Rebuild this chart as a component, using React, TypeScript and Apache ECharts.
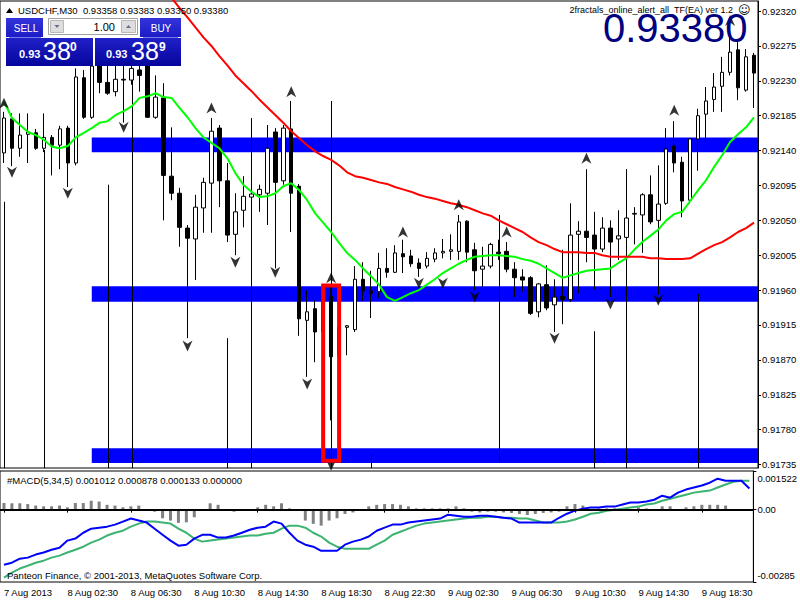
import React, { useEffect, useRef } from 'react';
import * as echarts from 'echarts';

const FONT = '"Liberation Sans", Arial, sans-serif';

const SYMBOL = 'USDCHF,M30';
const HEADER_QUOTES = ['0.93358', '0.93383', '0.93350', '0.93380'];
const BIG_PRICE = '0.93380';
const EA_NAME = '2fractals_online_alert_all_TF(EA) ver 1.2';
const MACD_TITLE = '#MACD(5,34,5) 0.001012 0.000878 0.000133 0.000000';
const COPYRIGHT = 'Panteon Finance, \u00A9 2001-2013, MetaQuotes Software Corp.';

const TIME_TICKS = [
  '7 Aug 2013', '8 Aug 02:30', '8 Aug 06:30', '8 Aug 10:30', '8 Aug 14:30', '8 Aug 18:30',
  '8 Aug 22:30', '9 Aug 02:30', '9 Aug 06:30', '9 Aug 10:30', '9 Aug 14:30', '9 Aug 18:30',
];
const PRICE_TICKS = [
  0.9232, 0.92275, 0.9223, 0.92185, 0.9214, 0.92095, 0.9205, 0.92005, 0.9196, 0.91915,
  0.9187, 0.91825, 0.9178, 0.91735,
];
const MACD_TICKS = [0.001522, 0, -0.00285];
const MACD_TICK_TEXT = ['0.001522', '0.00', '-0.00285'];

// [open, high, low, close]
const OHLC: number[][] = [
  [0.92137, 0.9219, 0.92124, 0.92182], [0.92181, 0.92188, 0.9212, 0.92143], [0.92143, 0.92188, 0.92132, 0.9216],
  [0.92161, 0.92188, 0.92124, 0.92164], [0.92163, 0.92168, 0.92141, 0.92143], [0.92143, 0.92188, 0.92138, 0.92157],
  [0.92157, 0.9216, 0.92108, 0.92147], [0.92147, 0.92172, 0.92116, 0.92168], [0.92169, 0.92172, 0.92093, 0.92124],
  [0.92124, 0.92246, 0.92121, 0.92235], [0.92234, 0.92244, 0.92181, 0.92183], [0.92183, 0.92254, 0.92181, 0.92249],
  [0.92249, 0.92257, 0.92214, 0.92228], [0.92228, 0.92254, 0.92212, 0.92214], [0.92216, 0.92254, 0.9221, 0.92232],
  [0.92232, 0.92254, 0.92176, 0.92231], [0.92231, 0.92257, 0.92225, 0.92246], [0.92244, 0.92254, 0.92216, 0.92237],
  [0.92249, 0.92254, 0.92182, 0.92183], [0.92183, 0.92237, 0.92181, 0.92209], [0.92208, 0.92227, 0.9205, 0.92108],
  [0.92107, 0.9217, 0.92076, 0.92085], [0.92085, 0.92092, 0.92016, 0.92041], [0.9204, 0.92044, 0.91898, 0.92027],
  [0.92026, 0.92083, 0.91973, 0.92067], [0.92066, 0.92105, 0.92034, 0.92099], [0.92098, 0.92182, 0.92034, 0.92165],
  [0.92169, 0.92173, 0.92067, 0.92101], [0.92101, 0.92124, 0.92022, 0.92031], [0.92032, 0.92085, 0.92005, 0.92061],
  [0.92063, 0.92107, 0.92041, 0.92081], [0.9208, 0.92096, 0.9207, 0.92084], [0.92083, 0.92096, 0.92061, 0.9209],
  [0.92085, 0.92173, 0.92044, 0.92143], [0.92164, 0.92169, 0.91988, 0.92099], [0.92101, 0.92173, 0.92096, 0.92169],
  [0.92168, 0.92204, 0.92035, 0.92085], [0.92094, 0.92097, 0.91901, 0.91923], [0.91921, 0.9196, 0.91848, 0.91932],
  [0.91936, 0.91947, 0.91867, 0.91906], [0.91906, 0.9195, 0.91889, 0.91947], [0.91952, 0.91967, 0.91792, 0.91874],
  [0.91876, 0.91919, 0.91867, 0.91912], [0.91912, 0.91915, 0.91876, 0.91914], [0.91909, 0.91991, 0.91906, 0.91974],
  [0.91974, 0.91996, 0.91946, 0.91959], [0.91959, 0.91985, 0.91924, 0.91956], [0.91958, 0.92008, 0.9195, 0.91988],
  [0.91988, 0.92014, 0.91976, 0.91983], [0.91983, 0.92018, 0.91982, 0.92008], [0.92007, 0.92025, 0.91982, 0.92003],
  [0.92004, 0.92012, 0.9199, 0.91994], [0.91995, 0.92001, 0.91977, 0.91988], [0.91991, 0.92009, 0.91988, 0.92001],
  [0.92, 0.92014, 0.91996, 0.92008], [0.92008, 0.92026, 0.92001, 0.9201], [0.9201, 0.92032, 0.91999, 0.92012],
  [0.9201, 0.92057, 0.91999, 0.92048], [0.92049, 0.9205, 0.91996, 0.92009], [0.92012, 0.92021, 0.9196, 0.91985],
  [0.91987, 0.92016, 0.91964, 0.91991], [0.91991, 0.92021, 0.91988, 0.92019], [0.92009, 0.92025, 0.91999, 0.92007],
  [0.9201, 0.92022, 0.91983, 0.91987], [0.91987, 0.91996, 0.91951, 0.91976], [0.91977, 0.91987, 0.91958, 0.91973],
  [0.91976, 0.91978, 0.91928, 0.9193], [0.91932, 0.91969, 0.91925, 0.91968], [0.91967, 0.91992, 0.91934, 0.91937],
  [0.91941, 0.91974, 0.91906, 0.91951], [0.91952, 0.92012, 0.91916, 0.91948], [0.91948, 0.92072, 0.91945, 0.92031],
  [0.92032, 0.92049, 0.91956, 0.92036], [0.92036, 0.92116, 0.91996, 0.92028], [0.92031, 0.92061, 0.91961, 0.92013],
  [0.92013, 0.92054, 0.92009, 0.9204], [0.9204, 0.9205, 0.91951, 0.92022], [0.92026, 0.92063, 0.91999, 0.9203],
  [0.92028, 0.92116, 0.92025, 0.92053], [0.92058, 0.92067, 0.92019, 0.92059], [0.92057, 0.92085, 0.92008, 0.92083],
  [0.92083, 0.92108, 0.92045, 0.92048], [0.9205, 0.92121, 0.91954, 0.92071], [0.92072, 0.92169, 0.9207, 0.92142],
  [0.92146, 0.92178, 0.92112, 0.92124], [0.92125, 0.92132, 0.92054, 0.92075], [0.92076, 0.92156, 0.92072, 0.92155],
  [0.92155, 0.92194, 0.92114, 0.92185], [0.92187, 0.92222, 0.92151, 0.92204], [0.92206, 0.9224, 0.9219, 0.92222],
  [0.92223, 0.92261, 0.9219, 0.92241], [0.92241, 0.92292, 0.92237, 0.92267], [0.9227, 0.9228, 0.92205, 0.92221],
  [0.92218, 0.92271, 0.92216, 0.92261], [0.92263, 0.92266, 0.92195, 0.9224],
];

// long vertical spikes: [bar, top, bottom]
const SPIKES: number[][] = [
  [0, 0.92074, 0.917], [5, 0.92141, 0.917], [13, 0.92096, 0.917], [16, 0.92246, 0.917],
  [28, 0.91898, 0.917], [31, 0.92182, 0.917], [41, 0.92204, 0.91732], [46, 0.91747, 0.917],
  [62, 0.92057, 0.91738], [74, 0.91907, 0.917], [78, 0.92116, 0.917], [87, 0.91955, 0.917],
];

// horizontal zones: [startBar, top, bottom]
const ZONES: number[][] = [
  [11, 0.92157, 0.92138],
  [11, 0.91965, 0.91945],
  [11, 0.91756, 0.91737],
];

// red box: [fromBar, toBar, top, bottom]
const RED_BOX: number[][] = [[40, 42, 0.91966, 0.9174]];

const MA_GREEN = [
  0.92203, 0.92182, 0.92173, 0.92164, 0.9216, 0.92154, 0.92145, 0.92143, 0.92146, 0.92157,
  0.92163, 0.92169, 0.92176, 0.92178, 0.92186, 0.92191, 0.92197, 0.92208, 0.9221, 0.92214,
  0.92209, 0.92208, 0.92195, 0.92183, 0.92169, 0.92157, 0.9215, 0.92143, 0.9213, 0.92111,
  0.92096, 0.92087, 0.9208, 0.92081, 0.92085, 0.92094, 0.92098, 0.92089, 0.92076, 0.92059,
  0.92047, 0.92035, 0.92021, 0.92008, 0.91999, 0.91988, 0.91978, 0.91967, 0.91951, 0.91946,
  0.91951, 0.91956, 0.9196, 0.91967, 0.91974, 0.91982, 0.91988, 0.91994, 0.91999, 0.92003,
  0.92004, 0.92005, 0.92005, 0.92004, 0.92003, 0.92, 0.91998, 0.91994, 0.91988, 0.91982,
  0.91976, 0.91979, 0.91982, 0.91985, 0.91986, 0.91987, 0.91988, 0.91995, 0.92001, 0.92012,
  0.92022, 0.9203, 0.92038, 0.9205, 0.92058, 0.92061, 0.92075, 0.92089, 0.92102, 0.92119,
  0.92134, 0.92151, 0.92161, 0.9217, 0.92183,
];

const MA_RED: (number | null)[] = [
  null, null, null, null, null, null, null, null, null, null,
  null, null, null, null, null, null, null, null,
  0.92374, 0.92362, 0.9235, 0.92337, 0.92324, 0.92312, 0.92299, 0.92286, 0.92275, 0.92262,
  0.9225, 0.92237, 0.92227, 0.92217, 0.92206, 0.92196, 0.92186, 0.92176, 0.92165, 0.92156,
  0.92147, 0.92139, 0.92133, 0.92128, 0.92121, 0.92112, 0.92107, 0.92105, 0.92102, 0.92099,
  0.92097, 0.92093, 0.9209, 0.92087, 0.92083, 0.9208, 0.92078, 0.92075, 0.92072, 0.9207,
  0.92067, 0.92063, 0.92059, 0.92056, 0.9205, 0.92045, 0.9204, 0.92035, 0.92028, 0.92022,
  0.92018, 0.92013, 0.92009, 0.92009, 0.92009, 0.92008, 0.92008, 0.92005, 0.92003, 0.92003,
  0.92003, 0.92003, 0.92003, 0.92001, 0.92001, 0.92, 0.92, 0.92, 0.92001, 0.92007,
  0.92013, 0.92018, 0.92022, 0.92028, 0.92035, 0.9204, 0.92047,
];

const FRACTAL_UP: number[][] = [
  [0, 0.92201], [26, 0.92195], [36, 0.92216], [41, 0.91976], [50, 0.92035],
  [57, 0.9207], [63, 0.92035], [73, 0.9213], [84, 0.92192], [91, 0.92308],
];
const FRACTAL_DOWN: number[][] = [
  [1, 0.92112], [8, 0.92085], [15, 0.9217], [23, 0.91888], [29, 0.91996], [34, 0.91983],
  [38, 0.91839], [41, 0.91734], [52, 0.91969], [55, 0.91969], [59, 0.91951], [69, 0.91898],
  [76, 0.91942], [82, 0.91947],
];

const MACD_HIST = [
  0.00026, 0.00025, 0.00025, 0.00022, 0.00016, 0.00013, 0.00013, 0.00016, 0.00009, 0.00026,
  0.00026, 0.00035, 0.00032, 0.00019, 0.00016, 0.00009, 0.00013, 0.00016, 0.00001, -0.00008,
  -0.00034, -0.00043, -0.00052, -0.0005, -0.0003, 0.00001, 0.00025, 0.00019, 0.00001, -0.00008,
  0.00001, 0.00001, 0.00009, 0.00019, 0.00013, 0.00025, 0.00005, 0.00001, -0.00043, -0.00056,
  -0.00063, -0.00043, -0.00034, -0.00017, -0.00011, 0.00001, 0.00013, 0.00019, 0.00022, 0.00022,
  0.00019, 0.00013, 0.00005, 0.00005, 0.00005, 0.00005, 0.00005, 0.00013, 0.00005, -0.00008,
  -0.00011, -0.00008, -0.00008, -0.00011, -0.00013, -0.00017, -0.00021, -0.00017, -0.00013, -0.00011,
  -0.00008, 0.00013, 0.00022, 0.00016, 0.00001, 0.00005, 0.00005, 0.00005, 0.00005, 0.00001,
  0.00009, 0.00005, 0.00001, 0.00013, 0.00013, 0.00001, 0.00009, 0.00013, 0.00019, 0.00019,
  0.00019, 0.00016, 0.00001, 0.00001, -0.00004,
];
const MACD_MAIN = [
  -0.00217, -0.00209, -0.00193, -0.00189, -0.00177, -0.00169, -0.00158, -0.0015, -0.00122, -0.00114,
  -0.00091, -0.00075, -0.00071, -0.00067, -0.00059, -0.00047, -0.00035, -0.00043, -0.00051, -0.00075,
  -0.00099, -0.00122, -0.00142, -0.00138, -0.00114, -0.00099, -0.00099, -0.0011, -0.0011, -0.00102,
  -0.00091, -0.00079, -0.00071, -0.00067, -0.00047, -0.00055, -0.00091, -0.00122, -0.00138, -0.00146,
  -0.00162, -0.00162, -0.00162, -0.00138, -0.00126, -0.00118, -0.00106, -0.00083, -0.00071, -0.00059,
  -0.00059, -0.00051, -0.00047, -0.00043, -0.00039, -0.00035, -0.0002, -0.00024, -0.00028, -0.00028,
  -0.00024, -0.00024, -0.00028, -0.00032, -0.00035, -0.00051, -0.00051, -0.00051, -0.00051, -0.00051,
  -0.00032, -0.00016, -0.00004, 0.00004, 0.00008, 0.00008, 0.00012, 0.00012, 0.0002, 0.00028,
  0.00028, 0.00032, 0.00039, 0.00055, 0.00047, 0.00067, 0.00079, 0.00087, 0.00095, 0.00106,
  0.00122, 0.00114, 0.00114, 0.00114, 0.00083,
];
const MACD_SIGNAL = [
  -0.00268, -0.00248, -0.00232, -0.00221, -0.00209, -0.00201, -0.00189, -0.00181, -0.00169, -0.00158,
  -0.00146, -0.0013, -0.00118, -0.00102, -0.00091, -0.00083, -0.00067, -0.00055, -0.00047, -0.00047,
  -0.00051, -0.00055, -0.00075, -0.00091, -0.00114, -0.00126, -0.00122, -0.00118, -0.00114, -0.0011,
  -0.00106, -0.00102, -0.00102, -0.00095, -0.00091, -0.00075, -0.00063, -0.00063, -0.00071, -0.00091,
  -0.00106, -0.0013, -0.00146, -0.00154, -0.00154, -0.00154, -0.00154, -0.00138, -0.00122, -0.00099,
  -0.00087, -0.00075, -0.00063, -0.00055, -0.00051, -0.00047, -0.00043, -0.00039, -0.00035, -0.00032,
  -0.00032, -0.00028, -0.00028, -0.00032, -0.00032, -0.00035, -0.00035, -0.00043, -0.00051, -0.00051,
  -0.00051, -0.00047, -0.00039, -0.00028, -0.00016, -0.00012, -0.00004, 0, 0.00004, 0.00008,
  0.00012, 0.0002, 0.00024, 0.00035, 0.00043, 0.00051, 0.00059, 0.00067, 0.00071, 0.00075,
  0.00087, 0.00099, 0.0011, 0.00114, 0.00114,
];

// M30 bar times starting 7 Aug 22:30
const CATEGORIES = OHLC.map((_, i) => {
  const minutes = 22 * 60 + 30 + i * 30;
  const day = 7 + Math.floor(minutes / 1440);
  const m = minutes % 1440;
  return `${day} Aug ${String(Math.floor(m / 60)).padStart(2, '0')}:${String(m % 60).padStart(2, '0')}`;
});

const UP_ARROW = 'path://M5,0 L10,10 L5,7 L0,10 Z';
const DOWN_ARROW = 'path://M0,0 L5,3 L10,0 L5,10 Z';

function txt(x: number, y: number, text: string, size: number, fill: string, align = 'left', weight = 'normal', family = FONT) {
  return {
    type: 'text', x, y, z: 100,
    style: { text, fill, fontSize: size, fontFamily: family, fontWeight: weight, align, verticalAlign: 'middle' },
  };
}

function grad(a: string, b: string) {
  return new echarts.graphic.LinearGradient(0, 0, 0, 1, [{ offset: 0, color: a }, { offset: 1, color: b }]);
}

function buildOption() {
  const candleData = OHLC.map(([o, h, l, c]) => [o, c, l, h]);
  const graphics: any[] = [
    { type: 'polygon', z: 100, shape: { points: [[6, 13], [9.5, 8], [13, 13]] }, style: { fill: '#000' } },
    txt(18, 10, `${SYMBOL}  ${HEADER_QUOTES.join(' ')}`, 9.5, '#000'),
    { type: 'rect', z: 100, shape: { x: 6, y: 18, width: 37, height: 19 }, style: { fill: grad('#3434dc', '#1c1cc6') } },
    { type: 'rect', z: 100, shape: { x: 140, y: 18, width: 41, height: 19 }, style: { fill: grad('#3434dc', '#1c1cc6') } },
    { type: 'rect', z: 100, shape: { x: 6, y: 38, width: 87, height: 28 }, style: { fill: grad('#2020c8', '#05059c') } },
    { type: 'rect', z: 100, shape: { x: 95, y: 38, width: 86, height: 28 }, style: { fill: grad('#2020c8', '#05059c') } },
    { type: 'line', z: 100, shape: { x1: 9, y1: 37.5, x2: 41, y2: 37.5 }, style: { stroke: '#7a7af0', lineWidth: 1 } },
    { type: 'line', z: 100, shape: { x1: 143, y1: 37.5, x2: 178, y2: 37.5 }, style: { stroke: '#7a7af0', lineWidth: 1 } },
    { type: 'rect', z: 100, shape: { x: 48.5, y: 18.5, width: 89, height: 16 }, style: { fill: '#fff', stroke: '#a0a0a0', lineWidth: 1 } },
    { type: 'rect', z: 100, shape: { x: 50.5, y: 20.5, width: 13, height: 12 }, style: { fill: '#dedede', stroke: '#b8b8b8', lineWidth: 1 } },
    { type: 'rect', z: 100, shape: { x: 121.5, y: 20.5, width: 14, height: 12 }, style: { fill: '#dedede', stroke: '#b8b8b8', lineWidth: 1 } },
    { type: 'polygon', z: 101, shape: { points: [[54.5, 25], [59.5, 25], [57, 28]] }, style: { fill: '#6a6a8a' } },
    { type: 'polygon', z: 101, shape: { points: [[126, 28], [131, 28], [128.5, 25]] }, style: { fill: '#6a6a8a' } },
    txt(115, 27, '1.00', 11, '#000', 'right'),
    txt(26, 28, 'SELL', 10, '#fff', 'center'),
    txt(161, 28, 'BUY', 10, '#fff', 'center'),
    txt(19, 54, '0.93', 11, '#fff', 'left', 'bold'),
    txt(43, 51, '38', 25, '#fff'),
    txt(70, 47, '0', 12, '#fff', 'left', 'bold'),
    txt(106, 54, '0.93', 11, '#fff', 'left', 'bold'),
    txt(131, 51, '38', 25, '#fff'),
    txt(159, 47, '9', 12, '#fff', 'left', 'bold'),
    txt(733, 10, EA_NAME, 9, '#000', 'right'),
    txt(738, 10, '\u263A', 12, '#000', 'left', 'normal', '"DejaVu Sans", sans-serif'),
    txt(603, 28, BIG_PRICE, 40, '#000080'),
    txt(7, 480, MACD_TITLE, 9.5, '#000'),
    txt(7, 575, COPYRIGHT, 9.5, '#000'),
  ];

  return {
    animation: false,
    backgroundColor: '#ffffff',
    textStyle: { fontFamily: FONT },
    grid: [
      { left: -1, right: 42, top: 1, height: 467, show: true, borderColor: '#000', borderWidth: 1, backgroundColor: 'transparent' },
      { left: -1, right: 42, top: 471, height: 111, show: true, borderColor: '#000', borderWidth: 1, backgroundColor: 'transparent' },
    ],
    xAxis: [
      {
        type: 'category', gridIndex: 0, data: CATEGORIES, boundaryGap: true,
        axisLine: { show: false }, axisTick: { show: false }, axisLabel: { show: false }, splitLine: { show: false },
      },
      {
        type: 'category', gridIndex: 1, data: CATEGORIES, boundaryGap: true,
        axisLine: { show: true, lineStyle: { color: '#000', width: 1 } },
        axisTick: { show: true, alignWithLabel: true, interval: 7, length: 3, lineStyle: { color: '#000' } },
        axisLabel: {
          show: true, interval: 7, align: 'left', margin: 5, fontSize: 9.5, color: '#000', fontFamily: FONT,
          formatter: (_v: string, i: number) => TIME_TICKS[Math.round(i / 8)] ?? '',
        },
        splitLine: { show: false },
      },
    ],
    yAxis: [
      {
        type: 'value', gridIndex: 0, position: 'right', min: 0.917305, max: 0.92333,
        splitLine: { show: false },
        axisLine: { show: true, lineStyle: { color: '#000' } },
        axisTick: { show: true, length: 3, customValues: PRICE_TICKS, lineStyle: { color: '#000' } },
        axisLabel: {
          customValues: PRICE_TICKS, margin: 4, fontSize: 9.5, color: '#000', fontFamily: FONT,
          formatter: (v: number) => v.toFixed(5),
        },
      },
      {
        type: 'value', gridIndex: 1, position: 'right', min: -0.00285, max: 0.001522,
        splitLine: { show: false },
        axisLine: { show: true, lineStyle: { color: '#000' } },
        axisTick: { show: true, length: 3, customValues: MACD_TICKS, lineStyle: { color: '#000' } },
        axisLabel: {
          customValues: MACD_TICKS, margin: 4, fontSize: 9.5, color: '#000', fontFamily: FONT,
          formatter: (v: number) => {
            const idx = MACD_TICKS.findIndex((t) => Math.abs(t - v) < 1e-9);
            const s = MACD_TICK_TEXT[idx] ?? '';
            if (idx === 0) return `{t|${s}}`;
            if (idx === 2) return `{b|${s}}`;
            return s;
          },
          rich: {
            t: { padding: [14, 0, 0, 0], fontSize: 9.5, color: '#000', fontFamily: FONT },
            b: { padding: [0, 0, 14, 0], fontSize: 9.5, color: '#000', fontFamily: FONT },
          },
        },
      },
    ],
    graphic: graphics,
    series: [
      {
        type: 'custom', name: 'zones', xAxisIndex: 0, yAxisIndex: 0, z: 1, clip: true, silent: true,
        data: ZONES, encode: { x: 0, y: [1, 2] },
        renderItem: (params: any, api: any) => {
          const a = api.coord([api.value(0), api.value(1)]);
          const b = api.coord([api.value(0), api.value(2)]);
          const cs = params.coordSys;
          return {
            type: 'rect',
            shape: { x: a[0], y: a[1], width: cs.x + cs.width - a[0], height: b[1] - a[1] },
            style: { fill: '#0000ff' },
          };
        },
      },
      {
        type: 'custom', name: 'spikes', xAxisIndex: 0, yAxisIndex: 0, z: 3, clip: true, silent: true,
        data: SPIKES, encode: { x: 0, y: [1, 2] },
        renderItem: (_params: any, api: any) => {
          const a = api.coord([api.value(0), api.value(1)]);
          const b = api.coord([api.value(0), api.value(2)]);
          const x = Math.round(a[0]) + 0.5;
          return { type: 'line', shape: { x1: x, y1: a[1], x2: x, y2: b[1] }, style: { stroke: '#000', lineWidth: 1 } };
        },
      },
      {
        type: 'candlestick', name: 'USDCHF', xAxisIndex: 0, yAxisIndex: 0, z: 4, clip: true,
        barWidth: 4, data: candleData, silent: true,
        itemStyle: { color: '#ffffff', color0: '#000000', borderColor: '#000000', borderColor0: '#000000', borderWidth: 1 },
      },
      {
        type: 'line', name: 'MA fast', xAxisIndex: 0, yAxisIndex: 0, z: 5, data: MA_GREEN, showSymbol: false,
        lineStyle: { color: '#00ff00', width: 2 }, silent: true,
      },
      {
        type: 'line', name: 'MA slow', xAxisIndex: 0, yAxisIndex: 0, z: 5, data: MA_RED, showSymbol: false,
        lineStyle: { color: '#ff0000', width: 2 }, silent: true, clip: true,
      },
      {
        type: 'scatter', name: 'fractal up', xAxisIndex: 0, yAxisIndex: 0, z: 6, data: FRACTAL_UP,
        symbol: UP_ARROW, symbolSize: [10, 11], itemStyle: { color: '#000' }, silent: true,
      },
      {
        type: 'scatter', name: 'fractal down', xAxisIndex: 0, yAxisIndex: 0, z: 6, data: FRACTAL_DOWN,
        symbol: DOWN_ARROW, symbolSize: [10, 11], itemStyle: { color: '#000' }, silent: true,
      },
      {
        type: 'custom', name: 'box', xAxisIndex: 0, yAxisIndex: 0, z: 7, clip: true, silent: true,
        data: RED_BOX, encode: { x: [0, 1], y: [2, 3] },
        renderItem: (_params: any, api: any) => {
          const a = api.coord([api.value(0), api.value(2)]);
          const b = api.coord([api.value(1), api.value(3)]);
          return {
            type: 'rect',
            shape: { x: a[0], y: a[1], width: b[0] - a[0], height: b[1] - a[1] },
            style: { fill: 'none', stroke: '#ff0000', lineWidth: 4 },
          };
        },
      },
      {
        type: 'bar', name: 'MACD hist', xAxisIndex: 1, yAxisIndex: 1, data: MACD_HIST, barWidth: 3,
        itemStyle: { color: '#808080' }, silent: true, z: 2,
        markLine: {
          silent: true, symbol: ['none', 'none'], label: { show: false },
          lineStyle: { color: '#000', width: 2, type: 'solid' }, data: [{ yAxis: 0 }],
        },
      },
      {
        type: 'line', name: 'MACD', xAxisIndex: 1, yAxisIndex: 1, data: MACD_MAIN, showSymbol: false,
        lineStyle: { color: '#0000ff', width: 2 }, silent: true, z: 4,
      },
      {
        type: 'line', name: 'Signal', xAxisIndex: 1, yAxisIndex: 1, data: MACD_SIGNAL, showSymbol: false,
        lineStyle: { color: '#3cb371', width: 2 }, silent: true, z: 3,
      },
    ],
  };
}

export default function App() {
  const ref = useRef<HTMLDivElement>(null);
  useEffect(() => {
    if (!ref.current) return;
    const chart = echarts.init(ref.current, null, { renderer: 'svg' });
    chart.setOption(buildOption() as any);
    return () => chart.dispose();
  }, []);
  return (
    <div
      ref={ref}
      style={{ position: 'fixed', left: 0, top: 0, width: 800, height: 600, background: '#ffffff' }}
    />
  );
}
